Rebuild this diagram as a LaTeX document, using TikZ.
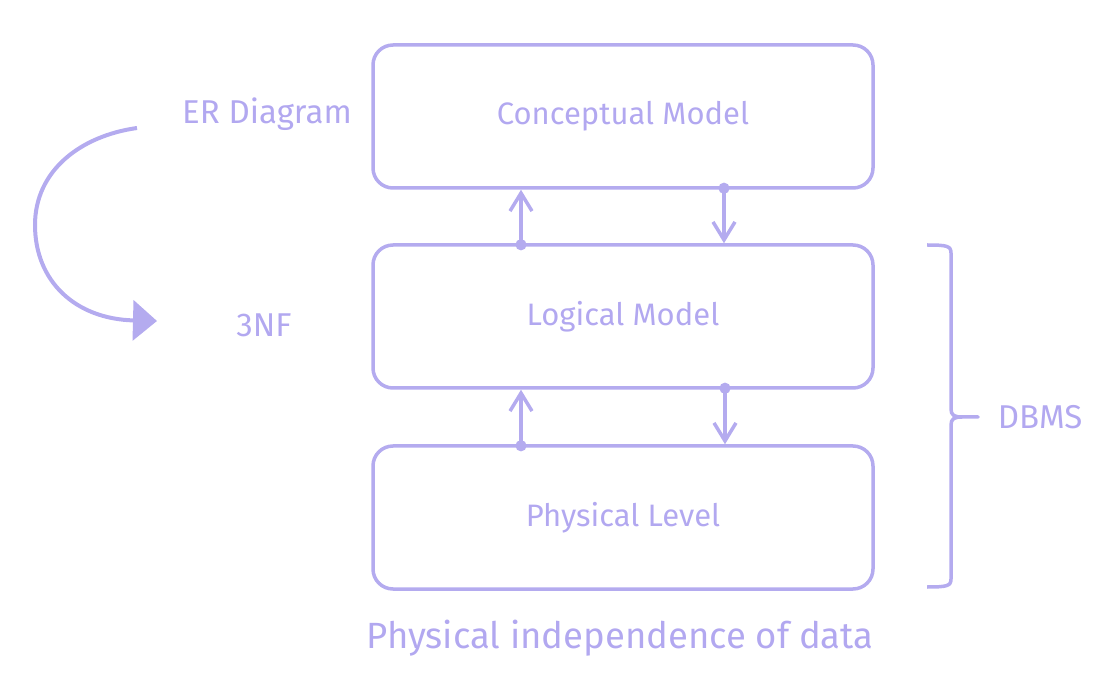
\documentclass[tikz,border=0pt]{standalone}
\usepackage{fontspec}
\setmainfont{Fira Sans}
\usetikzlibrary{arrows.meta,positioning,calc}
\definecolor{Lilac}{RGB}{180,171,239}
\definecolor{LilacText}{RGB}{178,168,240}

\begin{document}
\begin{tikzpicture}[
    x=1pt, y=1pt,
    level/.style={draw=Lilac, line width=3.5pt, rounded corners=20pt, text=LilacText,
      minimum width=500pt, minimum height=143pt, font=\fontsize{31}{36}\selectfont},
    tag/.style={text=LilacText, font=\fontsize{33}{38}\selectfont},
    arr/.style={{Circle[length=11pt,width=11pt]}-{Straight Barb[length=18pt,width=22pt]},
      line width=3.5pt, draw=Lilac},
    turn/.style={-{Triangle[length=24pt,width=40pt]}, line width=4pt, draw=Lilac},
    bracket/.style={line width=3.5pt, draw=Lilac, line join=round}
  ]
    \useasboundingbox (0,0) rectangle (1109,681);
    \node[level] (concept) at (623,564.5) {Conceptual Model};
    \node[level, below=53.5pt of concept] (logical) {Logical Model};
    \node[level, below=54.5pt of logical] (physical) {Physical Level};
    \draw[arr] ([xshift=-102pt,yshift=-7pt]logical.north) -- ([xshift=-102pt]concept.south);
    \draw[arr] ([xshift=101pt,yshift=7pt]concept.south) -- ([xshift=101pt]logical.north);
    \draw[arr] ([xshift=-102pt,yshift=-7pt]physical.north) -- ([xshift=-102pt]logical.south);
    \draw[arr] ([xshift=102pt,yshift=7pt]logical.south) -- ([xshift=102pt]physical.north);
    % ER -> 3NF
    \node[tag] (er) at (267,567) {ER Diagram};
    \node[tag] (nf) at (264,356) {3NF};
    \coordinate (erstart) at (137,553);
    \coordinate (nfend) at (157,360);
    \draw[turn] (erstart) .. controls (80,545) and (35,510) .. (35,456)
      .. controls (35,400) and (75,362) .. (nfend);
    % DBMS brace
    \draw[bracket] (927,436) .. controls (947,436) and (951,435) .. (951,428) -- (951,272)
      .. controls (951,266) and (954,264) .. (962,264) -- (978,264) -- (962,264)
      .. controls (954,264) and (951,262) .. (951,256) -- (951,102)
      .. controls (951,95) and (947,94) .. (927,94);
    \node[tag] (dbms) at (1040,264) {DBMS};
    \node[tag, font=\fontsize{36.5}{42}\selectfont] (caption) at (620,43) {Physical independence of data};
\end{tikzpicture}
\end{document}
